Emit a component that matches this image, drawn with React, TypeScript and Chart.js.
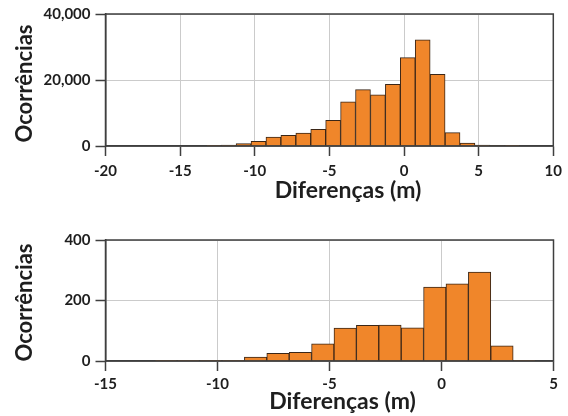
import React, { useEffect, useRef } from "react";
import { Chart, registerables } from "chart.js";

Chart.register(...registerables);

// ---------- data ----------
const TOP_BIN_CENTERS = [
  -12.75, -11.75, -10.75, -9.75, -8.75, -7.75, -6.75, -5.75, -4.75, -3.75, -2.75,
  -1.75, -0.75, 0.25, 1.25, 2.25, 3.25, 4.25, 5.25, 6.25, 7.25,
];
const TOP_COUNTS = [
  100, 250, 700, 1400, 2700, 3200, 3900, 5050, 7800, 13400, 17100,
  15500, 18700, 26800, 32200, 21700, 4050, 900, 250, 150, 80,
];
const TOP_Y_TICKS = [0, 20000, 40000];
const TOP_X_MIN = -20;
const TOP_X_MAX = 10;

const BOTTOM_BIN_CENTERS = [
  -12.3, -11.3, -10.3, -9.3, -8.3, -7.3, -6.3, -5.3, -4.3, -3.3, -2.3, -1.3,
  -0.3, 0.7, 1.7, 2.7, 3.7,
];
const BOTTOM_COUNTS = [
  1, 1, 1, 2, 13, 25, 29, 57, 109, 118, 119, 110, 244, 255, 294, 50, 1,
];
const BOTTOM_Y_TICKS = [0, 200, 400];
const BOTTOM_X_MIN = -15;
const BOTTOM_X_MAX = 5;

const X_STEP = 5;
const X_TITLE = "Diferenças (m)";
const Y_TITLE = "Ocorrências";

// ---------- styles ----------
const FONT = "Lato";
const BAR_FILL = "#F0862A";
const BAR_EDGE = "#3a2617";
const FRAME = "#3f3f3f";
const GRID = "#cbcbcb";
const TEXT = "#1e1e1e";

const framePlugin = {
  id: "frameAndTitles",
  afterDatasetsDraw(chart: any) {
    const { ctx, chartArea } = chart;
    ctx.save();
    ctx.strokeStyle = FRAME;
    ctx.lineWidth = 1.5;
    ctx.strokeRect(
      chartArea.left,
      chartArea.top,
      chartArea.right - chartArea.left,
      chartArea.bottom - chartArea.top
    );
    ctx.restore();
  },
  afterDraw(chart: any, _args: any, opts: any) {
    const { ctx } = chart;
    ctx.save();
    ctx.fillStyle = TEXT;
    ctx.textAlign = "center";
    ctx.textBaseline = "alphabetic";
    ctx.font = `700 ${opts.xSize}px ${FONT}`;
    ctx.fillText(opts.xText, opts.xCenter, opts.xBaseline);
    ctx.font = `700 ${opts.ySize}px ${FONT}`;
    const w = ctx.measureText(opts.yText).width;
    const k = Math.min(1, opts.yLength / w);
    ctx.translate(opts.yBaseline, opts.yCenter);
    ctx.rotate(-Math.PI / 2);
    ctx.scale(k, 1);
    ctx.fillText(opts.yText, 0, 0);
    ctx.restore();
  },
};

type HistProps = {
  width: number;
  height: number;
  centers: number[];
  counts: number[];
  yTicks: number[];
  xMin: number;
  xMax: number;
  area: { left: number; right: number; top: number; bottom: number };
  xTickPad: number;
  titles: { xCenter: number; xBaseline: number; yCenter: number; yBaseline: number };
};

function Histogram(p: HistProps) {
  const ref = useRef<HTMLCanvasElement | null>(null);
  useEffect(() => {
    if (!ref.current) return;
    const yMax = p.yTicks[p.yTicks.length - 1];
    const chart = new Chart(ref.current, {
      type: "bar",
      data: {
        datasets: [
          {
            data: p.centers.map((c, i) => ({ x: c, y: p.counts[i] })),
            backgroundColor: BAR_FILL,
            borderColor: BAR_EDGE,
            borderWidth: 1,
            barPercentage: 1,
            categoryPercentage: 1,
          },
        ],
      },
      options: {
        responsive: false,
        animation: false,
        devicePixelRatio: 1,
        layout: {
          padding: {
            top: p.area.top,
            right: p.width - p.area.right,
            left: 0,
            bottom: 0,
          },
        },
        plugins: {
          legend: { display: false },
          tooltip: { enabled: false },
          frameAndTitles: {
            xSize: 23,
            ySize: 22,
            yLength: 118,
            xText: X_TITLE,
            yText: Y_TITLE,
            ...p.titles,
          },
        } as any,
        scales: {
          x: {
            type: "linear",
            min: p.xMin,
            max: p.xMax,
            offset: false,
            afterFit: (s: any) => {
              s.height = p.height - p.area.bottom;
            },
            ticks: {
              stepSize: X_STEP,
              padding: p.xTickPad,
              color: TEXT,
              font: { family: FONT, size: 15, weight: "bold" },
              maxRotation: 0,
            },
            grid: {
              offset: false,
              color: GRID,
              lineWidth: 1,
              drawTicks: true,
              tickLength: 10,
              tickColor: FRAME,
              tickWidth: 1.5,
            },
            border: { display: true, color: FRAME, width: 1.5 },
          },
          y: {
            type: "linear",
            min: 0,
            max: yMax,
            afterFit: (s: any) => {
              s.width = p.area.left;
            },
            afterBuildTicks: (s: any) => {
              s.ticks = p.yTicks.map((v) => ({ value: v }));
            },
            ticks: {
              padding: 5,
              color: TEXT,
              font: { family: FONT, size: 15, weight: "bold" },
              callback: (v: any) => Number(v).toLocaleString("en-US"),
            },
            grid: {
              color: GRID,
              lineWidth: 1,
              drawTicks: true,
              tickLength: 10,
              tickColor: FRAME,
              tickWidth: 1.5,
            },
            border: { display: true, color: FRAME, width: 1.5 },
          },
        },
      } as any,
      plugins: [framePlugin],
    });
    return () => chart.destroy();
  }, []);
  return (
    <canvas
      ref={ref}
      width={p.width}
      height={p.height}
      style={{ display: "block", width: p.width, height: p.height }}
    />
  );
}

export default function App() {
  return (
    <div
      style={{
        position: "fixed",
        left: 0,
        top: 0,
        width: 568,
        height: 416,
        background: "#ffffff",
      }}
    >
      <Histogram
        width={568}
        height={210}
        centers={TOP_BIN_CENTERS}
        counts={TOP_COUNTS}
        yTicks={TOP_Y_TICKS}
        xMin={TOP_X_MIN}
        xMax={TOP_X_MAX}
        area={{ left: 105.5, right: 554, top: 14, bottom: 146 }}
        xTickPad={6}
        titles={{ xCenter: 348, xBaseline: 198, yCenter: 83.5, yBaseline: 32 }}
      />
      <Histogram
        width={568}
        height={206}
        centers={BOTTOM_BIN_CENTERS}
        counts={BOTTOM_COUNTS}
        yTicks={BOTTOM_Y_TICKS}
        xMin={BOTTOM_X_MIN}
        xMax={BOTTOM_X_MAX}
        area={{ left: 105.5, right: 553.5, top: 30, bottom: 151 }}
        xTickPad={4}
        titles={{ xCenter: 342.5, xBaseline: 199, yCenter: 92.5, yBaseline: 32 }}
      />
    </div>
  );
}
